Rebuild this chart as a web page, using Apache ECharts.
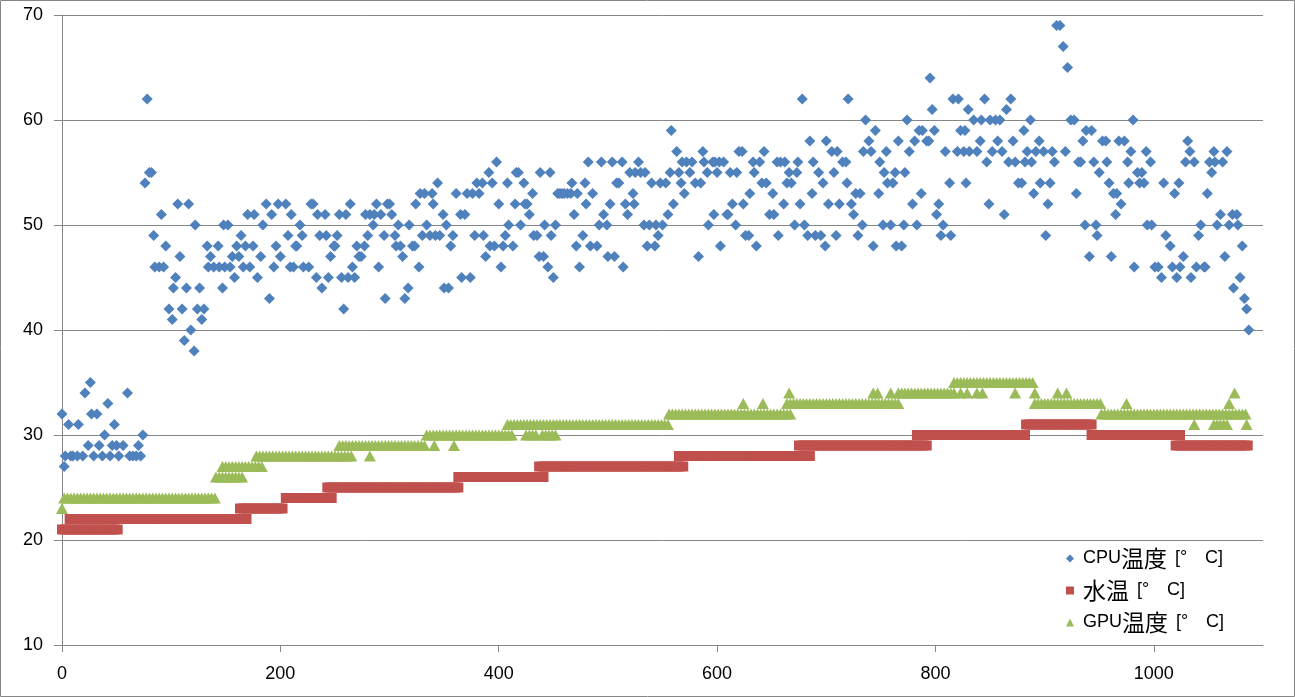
<!DOCTYPE html>
<html><head><meta charset="utf-8">
<script src="https://cdn.jsdelivr.net/npm/echarts@6/dist/echarts.min.js"></script>
<style>html,body{margin:0;padding:0;background:#fff}#c{width:1295px;height:697px}</style>
</head><body><div id="c"></div>
<script>
const seriesNames = ['CPU温度 [°C]', '水温 [°C]', 'GPU温度 [°C]'];
const xAxisRange = [0, 1100, 200];
const yAxisRange = [10, 70, 10];
const sampleStep = 3;

// CPU temperature readings: [x, value]
const cpuPoints = [
[0,32],[2,27],[3,28],[6,31],[8,28],[10,28],[14,28],[15,31],[19,28],[21,34],[24,29],[26,35],[27,32],[29,28],[32,32],[34,29],[37,28],[39,30],[42,33],[44,28],[46,29],[48,31],[50,29],[52,28],[56,29],[60,34],[62,28],[65,28],[68,28],[70,29],[72,28],[74,30],
[76,54],[78,62],[80,55],[82,55],[84,49],[85,46],[89,46],[91,51],[93,46],[95,48],[98,42],[101,41],[102,44],[104,45],[106,52],[108,47],[110,42],[112,39],[114,44],[116,52],[118,40],[121,38],[122,50],[124,42],[126,44],[128,41],[130,42],[133,48],[134,46],[136,47],[139,46],[143,48],[144,46],[147,44],[148,50],[149,46],[152,50],[154,46],[156,47],[158,45],[160,48],[162,47],[164,49],[166,46],[168,48],[170,51],[172,46],[175,48],[176,51],[179,45],[182,47],[184,50],[187,52],[190,43],[192,51],[194,46],[196,48],[198,52],[200,47],
[205,52],[207,49],[209,46],[210,51],[212,46],[214,48],[215,48],[218,50],[220,49],[221,46],[226,46],[228,52],[230,52],[233,45],[234,51],[236,49],[238,44],[241,51],[242,49],[244,45],[246,47],[249,48],[250,48],[252,49],[254,51],[256,45],[258,42],[260,51],[262,45],[264,52],[266,46],[268,45],[270,48],[272,47],[274,47],[277,48],[278,51],[280,49],[282,51],[285,50],[286,51],[288,52],[290,46],[292,51],[295,49],[296,43],[298,52],[300,52],[302,51],[305,49],[306,48],[308,50],[310,48],[312,47],[314,43],[317,44],[318,50],[321,48],[323,48],[324,52],[327,46],[328,53],[330,49],[332,53],[334,50],[337,49],[339,53],[340,52],[342,49],[344,54],[346,49],[349,51],[350,44],[352,50],[354,44],[356,48],[358,49],[361,53],[365,51],[366,45],[369,51],[371,53],[374,45],[376,53],[378,49],[380,54],[382,53],[385,54],[386,49],[388,47],[391,55],[392,48],[394,54],[396,48],[398,56],[400,52],[402,46],[404,48],[406,49],[408,54],[409,50],
[413,48],[415,52],[416,55],[418,55],[420,50],[423,54],[424,52],[426,52],[428,51],[431,53],[432,49],[435,49],[437,47],[438,55],[441,47],[442,50],[445,46],[447,55],[448,49],[450,45],[452,50],[454,53],[456,53],[458,53],[460,53],[463,53],[466,53],[467,54],[469,51],[471,48],[472,53],[474,46],[477,49],[479,54],[480,52],[482,56],[484,48],[486,53],[490,48],[492,50],[494,56],[496,51],[499,50],[500,47],[502,52],[504,56],[506,47],[508,54],[510,54],[513,56],[514,46],[516,52],[518,51],[520,55],[523,53],[524,52],[525,55],[528,56],[530,55],[533,50],[534,55],[536,48],[538,50],[540,54],[543,48],[544,50],[546,49],[548,54],[550,50],[553,54],[555,51],[557,55],[558,59],[560,52],[563,57],[565,55],[567,54],[568,56],[570,53],[572,56],[575,55],[577,56],[580,54],[583,47],[585,54],[587,57],[588,56],[591,55],[592,50],[596,56],[597,51],[598,56],[600,55],[602,56],[603,48],[606,56],[609,51],[610,51],[612,55],[614,52],[617,50],[618,55],[620,57],
[623,57],[624,52],[626,49],[629,49],[630,53],[633,56],[634,55],[636,48],[639,56],[641,54],[643,57],[645,54],[648,51],[651,53],[652,51],[655,56],[656,49],[658,56],[661,52],[662,56],[664,54],[666,55],[668,54],[671,50],[673,55],[674,56],[676,52],[678,62],[680,50],[683,49],[685,58],[687,53],[688,56],[690,49],[693,55],[695,49],[697,54],[699,48],[700,58],[702,52],[705,57],[707,55],[709,49],[710,57],[712,52],[715,56],[718,56],[719,54],[720,62],[723,52],[725,51],[727,53],[729,49],[731,53],[733,50],[734,57],[736,60],[739,58],[741,57],[743,48],[745,59],[748,53],[749,56],[752,50],[753,55],[755,57],[756,54],[759,50],[761,54],[763,55],[764,48],[766,58],[769,48],[771,50],[772,55],[774,60],[776,57],[779,52],[781,58],[783,50],[785,59],[787,53],[788,59],[792,58],[794,58],[795,64],[797,61],[799,59],[801,51],[803,52],[805,49],[807,50],[809,57],[813,54],[814,49],[816,62],[820,57],[821,62],[823,59],[826,57],[827,59],[828,54],[830,61],[831,57],
[835,60],[838,57],[841,58],[842,60],[845,62],[847,56],[849,52],[850,60],[852,57],[855,60],[857,58],[859,60],[861,57],[863,51],[865,61],[867,56],[869,62],[871,58],[873,56],[876,54],[879,54],[881,59],[882,56],[884,57],[887,60],[888,56],[890,53],[892,57],[895,58],[896,54],[899,57],[901,49],[903,52],[905,54],[907,57],[909,56],[911,69],[914,69],[917,67],[919,57],[921,65],[924,60],[927,60],[929,53],[931,56],[933,56],[935,58],[937,50],[938,59],[941,47],[943,59],[945,56],[947,50],[948,49],[950,55],[953,58],[956,58],[957,56],[959,54],[961,47],[963,53],[965,51],[966,53],[968,58],[970,52],[973,58],[976,56],[977,54],[979,57],[981,60],[982,46],[985,55],[987,54],[989,55],[991,54],[993,57],[994,50],[997,56],[998,50],[1001,46],[1004,46],[1007,45],[1009,54],[1011,49],[1015,48],[1017,46],[1019,53],[1021,45],[1023,54],[1024,46],[1027,47],[1029,56],[1031,58],[1033,57],[1034,45],[1037,56],[1039,46],[1041,49],[1043,50],[1046,46],[1047,46],[1049,53],[1051,56],[1053,55],[1055,57],[1056,56],[1058,50],[1061,51],[1063,56],[1065,47],[1067,57],[1069,50],[1072,51],[1073,44],[1076,51],[1077,50],[1079,45],[1081,48],[1083,43],[1085,42],[1087,40]
];

// Water temperature: constant runs [value, first x, last x], one reading per sample step
const waterRuns = [
[21,0,52],[22,7,170],[23,163,204],[24,205,247],[25,243,363],[26,363,443],[27,437,571],
[28,565,685],[29,675,793],[30,783,883],[31,883,943],[30,943,1025],[29,1020,1087]
];

// GPU temperature: runs [value, first x, last x]
const gpuRuns = [
[23,0,0],[24,2,140],[26,141,167],[27,147,185],[28,178,266],[28,282,282],
[29,254,332],[29,341,341],[29,359,359],
[30,334,413],[30,425,435],[30,440,453],
[31,408,555],
[32,556,669],[33,624,624],[33,642,642],[34,666,666],
[33,664,767],[34,743,743],[34,747,747],[34,759,759],
[34,766,818],[34,823,823],[34,829,829],[34,838,838],[34,843,843],
[35,817,889],[34,873,873],[34,891,891],
[33,891,951],[34,912,912],[34,920,920],
[33,975,975],
[32,952,1084],[31,1037,1037],[31,1055,1067],[33,1069,1069],[34,1074,1076],[31,1085,1085]
];

function expandRuns(runs){
  const out=[];
  runs.forEach(([v,a,b])=>{ for(let x=a;x<=b;x+=sampleStep) out.push([x,v]); });
  return out;
}

const FONT = '"Liberation Sans", "Noto Sans CJK JP", sans-serif';
const CJK = '"Noto Sans CJK JP", sans-serif';
const chart = echarts.init(document.getElementById('c'), null, {renderer:'canvas'});
chart.setOption({
  animation:false,
  backgroundColor:'#ffffff',
  graphic:[{type:'rect', silent:true, z:-10, shape:{x:0.5,y:0.5,width:1294,height:696}, style:{fill:'#ffffff', stroke:'#868686', lineWidth:1}}],
  grid:{left:62,right:32,top:15,bottom:52,containLabel:false},
  xAxis:{type:'value',min:xAxisRange[0],max:xAxisRange[1],interval:xAxisRange[2],
    axisLine:{show:true,onZero:false,lineStyle:{color:'#868686',width:1}},
    axisTick:{show:true,length:7,lineStyle:{color:'#868686'}},
    axisLabel:{margin:20,color:'#000',fontSize:18,fontFamily:FONT,showMaxLabel:false,formatter:v=>String(v)},
    splitLine:{show:false}},
  yAxis:{type:'value',min:yAxisRange[0],max:yAxisRange[1],interval:yAxisRange[2],
    axisLine:{show:true,lineStyle:{color:'#868686',width:1}},
    axisTick:{show:true,length:8,lineStyle:{color:'#868686'}},
    axisLabel:{margin:19,color:'#000',fontSize:18,fontFamily:FONT},
    splitLine:{show:true,lineStyle:{color:'#868686',width:1}}},
  legend:{orient:'vertical',left:1066,top:547,padding:0,itemGap:9,itemWidth:8,itemHeight:8,
    formatter:name=>name.replace(/([\u3000-\u9fff]+)/g,'{cjk|$1}').replace('°','{deg|°}'),
    textStyle:{fontSize:18,fontFamily:FONT,color:'#000',lineHeight:22,padding:[0,0,0,4],
      rich:{cjk:{fontSize:23,fontFamily:CJK,color:'#000',lineHeight:22,padding:[0,3,0,0]},
            deg:{fontSize:18,fontFamily:FONT,color:'#000',width:25,lineHeight:22}}},
    data:[{name:seriesNames[0],icon:'diamond'},{name:seriesNames[1],icon:'rect'},{name:seriesNames[2],icon:'triangle'}]},
  series:[
    {name:seriesNames[0],type:'scatter',data:cpuPoints,symbol:'diamond',symbolSize:[11,11],clip:false,
      itemStyle:{color:'#4F81BD',opacity:1},z:2},
    {name:seriesNames[1],type:'scatter',data:expandRuns(waterRuns),symbol:'rect',symbolSize:10,clip:false,
      itemStyle:{color:'#C0504D',opacity:1},z:3},
    {name:seriesNames[2],type:'scatter',data:expandRuns(gpuRuns),symbol:'triangle',symbolSize:[12,11],clip:false,
      itemStyle:{color:'#9BBB59',opacity:1},z:4}
  ]
});
</script></body></html>
